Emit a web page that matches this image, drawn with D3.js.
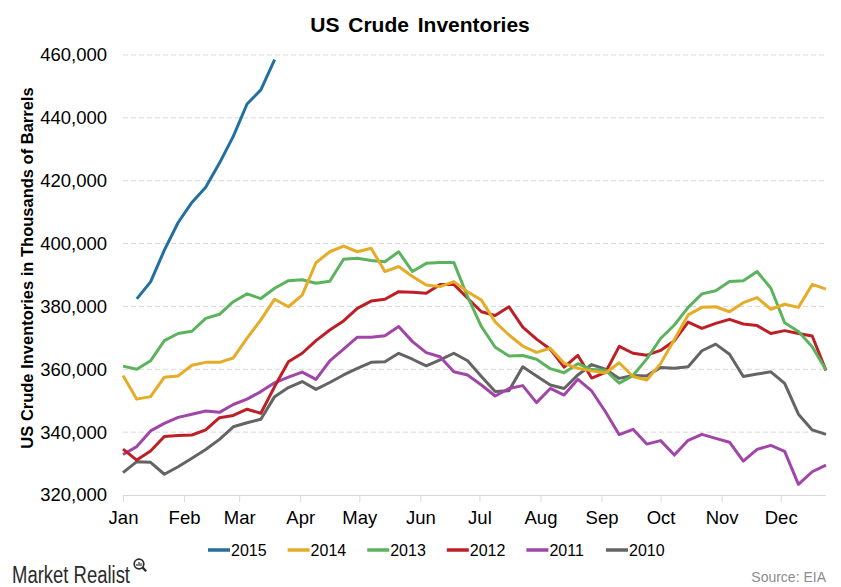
<!DOCTYPE html>
<html>
<head>
<meta charset="utf-8">
<script src="https://cdn.jsdelivr.net/npm/d3@7"></script>
<style>
  html, body { margin: 0; padding: 0; background: #fff; }
  svg { display: block; font-family: "Liberation Sans", Arial, sans-serif; }
</style>
</head>
<body>
<svg id="chart" width="841" height="587"></svg>
<script>
// ---- Data (million barrels; axis shows thousand barrels) ----
const title = "US Crude Inventories";
const yAxisLabel = "US Crude Inventories in Thousands of Barrels";
const source = "Source: EIA";
const brand = "Market Realist";

const years = ["2015", "2014", "2013", "2012", "2011", "2010"];
const colors = ["#236f9f", "#e6ac27", "#5cb35e", "#bd1f26", "#a146a8", "#646464"];
const yTicks = [320, 340, 360, 380, 400, 420, 440, 460];

// weekly values, week 0 .. week 51
const v2015 = [null, 382.4, 387.8, 397.9, 406.7, 413.1, 417.9, 425.6, 434.1, 444.4, 448.9, 458.5];
const v2014 = [358.0, 350.5, 351.3, 357.5, 357.9, 361.3, 362.2, 362.2, 363.6, 369.9,
               375.7, 382.3, 379.9, 383.6, 393.9, 397.4, 399.2, 397.4, 398.5, 391.1,
               392.7, 389.5, 386.8, 386.3, 387.9, 384.7, 382.0, 375.1, 370.9, 367.4,
               365.4, 366.7, 361.9, 360.3, 359.5, 358.8, 362.1, 357.7, 356.6, 361.8,
               369.5, 377.3, 379.7, 379.9, 378.3, 381.2, 382.8, 379.1, 380.7, 379.7,
               387.0, 385.5];
const v2013 = [361.0, 360.0, 362.7, 369.1, 371.4, 372.1, 376.2, 377.5, 381.5, 384.0,
               382.5, 385.8, 388.2, 388.5, 387.4, 388.0, 395.0, 395.3, 394.6, 394.2,
               397.4, 391.1, 393.7, 394.0, 394.0, 383.1, 373.6, 367.0, 364.2, 364.4,
               363.2, 360.2, 358.9, 361.8, 359.9, 359.7, 355.6, 358.0, 363.3, 369.8,
               374.1, 379.7, 384.0, 385.0, 387.9, 388.2, 391.1, 385.8, 374.8, 372.0,
               367.2, 359.8];
const v2012 = [334.6, 331.1, 334.0, 338.6, 338.9, 339.1, 340.7, 344.6, 345.3, 347.3,
               346.0, 354.5, 362.4, 365.1, 369.1, 372.5, 375.4, 379.4, 381.7, 382.3,
               384.7, 384.5, 384.2, 387.0, 387.0, 382.6, 378.3, 377.1, 379.9, 373.4,
               369.6, 366.4, 360.7, 364.4, 357.2, 359.0, 367.3, 365.1, 364.5, 366.0,
               369.1, 375.0, 373.0, 374.6, 375.9, 374.4, 373.9, 371.4, 372.3, 371.4,
               370.6, 359.6];
const v2011 = [332.9, 335.4, 340.4, 342.8, 344.7, 345.7, 346.7, 346.3, 348.8, 350.5,
               352.9, 355.7, 357.5, 359.1, 356.8, 362.7, 366.4, 370.2, 370.2, 370.7,
               373.6, 368.8, 365.3, 364.0, 359.2, 358.2, 355.0, 351.5, 353.9, 354.8,
               349.4, 353.9, 351.8, 356.8, 353.1, 346.5, 339.2, 340.9, 336.2, 337.3,
               332.7, 337.4, 339.3, 338.0, 336.8, 330.8, 334.5, 335.8, 333.9, 323.4,
               327.4, 329.5];
const v2010 = [327.1, 330.6, 330.4, 326.6, 329.0, 331.7, 334.5, 337.7, 341.7, 343.0,
               344.1, 351.3, 354.2, 356.1, 353.6, 355.8, 358.2, 360.3, 362.2, 362.4,
               365.1, 363.2, 361.1, 363.0, 365.1, 362.7, 357.7, 352.9, 353.2, 360.8,
               357.9, 355.0, 353.9, 358.2, 361.5, 360.0, 357.1, 358.0, 357.9, 360.6,
               360.3, 360.8, 365.9, 368.0, 364.8, 357.7, 358.5, 359.2, 355.5, 345.7,
               340.7, 339.3];
const seriesValues = [v2015, v2014, v2013, v2012, v2011, v2010];

// ---- Layout ----
const svg = d3.select("#chart");
const plotLeft = 123, plotRight = 826, plotTop = 55, plotBottom = 495;

const refYear = 2014;
const weekDate = i => d3.timeDay.offset(new Date(refYear, 0, 1), 7 * i);
const x = d3.scaleTime()
  .domain([new Date(refYear, 0, 1), weekDate(51)])
  .range([plotLeft, plotRight]);
const y = d3.scaleLinear().domain([320, 460]).range([plotBottom, plotTop]);

// gridlines
svg.append("g")
  .selectAll("line")
  .data(yTicks.filter(t => t > 320))
  .join("line")
  .attr("x1", plotLeft).attr("x2", plotRight)
  .attr("y1", d => y(d)).attr("y2", d => y(d))
  .attr("stroke", "#d9d9d9")
  .attr("stroke-width", 1)
  .attr("stroke-dasharray", "5,3");

// y axis labels
const yAxis = d3.axisLeft(y)
  .tickValues(yTicks)
  .tickSize(0)
  .tickPadding(16)
  .tickFormat(d => d3.format(",")(d * 1000));
const gy = svg.append("g").attr("transform", `translate(${plotLeft},0)`).call(yAxis);
gy.select(".domain").remove();
gy.selectAll("text")
  .attr("font-size", "18.5px")
  .attr("font-family", "'Liberation Sans', Arial, sans-serif")
  .attr("fill", "#000");

// x axis
const xAxis = d3.axisBottom(x)
  .ticks(d3.timeMonth.every(1))
  .tickFormat(d3.timeFormat("%b"))
  .tickSize(7)
  .tickPadding(9);
const gx = svg.append("g").attr("transform", `translate(0,${plotBottom})`).call(xAxis);
gx.select(".domain").attr("stroke", "#d9d9d9").attr("d", `M${plotLeft},0.5H${plotRight}`);
gx.selectAll(".tick line").attr("stroke", "#d9d9d9");
gx.selectAll("text")
  .attr("font-size", "18.5px")
  .attr("font-family", "'Liberation Sans', Arial, sans-serif")
  .attr("fill", "#000");

// lines
const line = d3.line()
  .defined(d => d.v != null)
  .x(d => x(d.date))
  .y(d => y(d.v));

const series = years.map((yr, k) => ({
  year: yr,
  color: colors[k],
  points: seriesValues[k].map((v, i) => ({ date: weekDate(i), v }))
}));

svg.append("g")
  .selectAll("path")
  .data(series.slice().reverse())
  .join("path")
  .attr("d", d => line(d.points))
  .attr("fill", "none")
  .attr("stroke", d => d.color)
  .attr("stroke-width", 3)
  .attr("stroke-linejoin", "round");

// title
svg.append("text")
  .attr("x", 420).attr("y", 32)
  .attr("text-anchor", "middle")
  .attr("font-size", "21px")
  .attr("font-weight", "bold")
  .attr("word-spacing", "3px")
  .text(title);

// y label
svg.append("text")
  .attr("transform", "translate(33,268) rotate(-90)")
  .attr("text-anchor", "middle")
  .attr("font-size", "16.5px")
  .attr("font-weight", "bold")
  .text(yAxisLabel);

// legend
const legend = svg.append("g").attr("transform", "translate(208,550)");
const items = legend.selectAll("g")
  .data(series)
  .join("g")
  .attr("transform", (d, i) => `translate(${i * 79.6},0)`);
items.append("line")
  .attr("x1", 0).attr("x2", 22)
  .attr("y1", 0).attr("y2", 0)
  .attr("stroke", d => d.color)
  .attr("stroke-width", 3.5);
items.append("text")
  .attr("x", 23).attr("y", 6)
  .attr("font-size", "16px")
  .text(d => d.year);

// brand
svg.append("text")
  .attr("x", 12).attr("y", 583)
  .attr("font-size", "23px")
  .attr("fill", "#2b2b2b")
  .attr("textLength", 118)
  .attr("lengthAdjust", "spacingAndGlyphs")
  .text(brand);
const icon = svg.append("g").attr("transform", "translate(139,564)");
icon.append("circle").attr("r", 4.8).attr("fill", "none").attr("stroke", "#2b2b2b").attr("stroke-width", 1.7);
icon.append("line").attr("x1", 3.4).attr("y1", 3.4).attr("x2", 7.2).attr("y2", 7.2)
  .attr("stroke", "#2b2b2b").attr("stroke-width", 2.2);
icon.append("line").attr("x1", -2).attr("y1", 2).attr("x2", -2).attr("y2", 0).attr("stroke", "#2b2b2b").attr("stroke-width", 1.2);
icon.append("line").attr("x1", 0).attr("y1", 2).attr("x2", 0).attr("y2", -2).attr("stroke", "#2b2b2b").attr("stroke-width", 1.2);
icon.append("line").attr("x1", 2).attr("y1", 2).attr("x2", 2).attr("y2", -0.8).attr("stroke", "#2b2b2b").attr("stroke-width", 1.2);

// source
svg.append("text")
  .attr("x", 826).attr("y", 582)
  .attr("text-anchor", "end")
  .attr("font-size", "14px")
  .attr("fill", "#8c8c8c")
  .text(source);
</script>
</body>
</html>
